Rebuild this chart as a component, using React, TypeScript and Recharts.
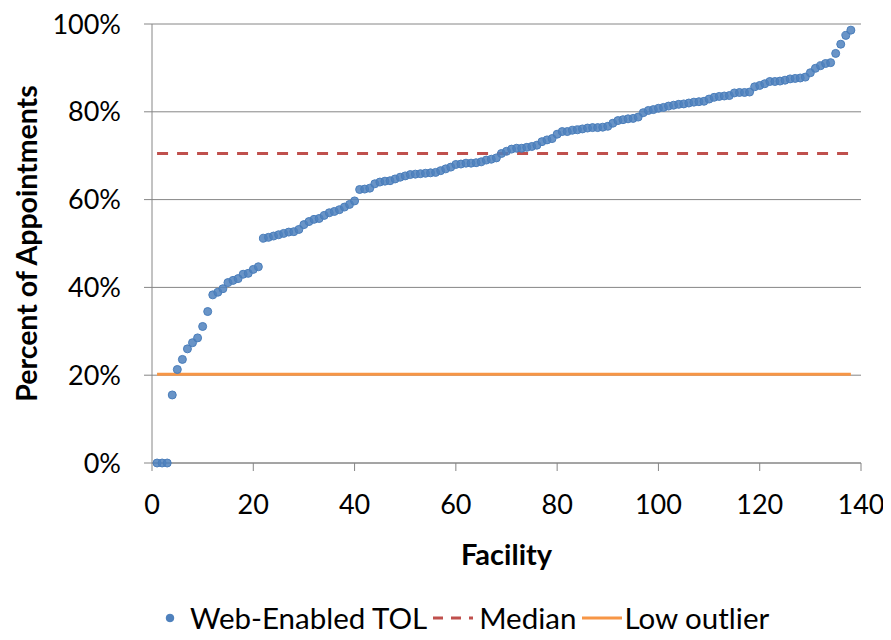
import { ComposedChart, Scatter, Line, XAxis, YAxis, CartesianGrid } from "recharts";

// Share of appointments booked through web-enabled TOL, one value per facility, sorted ascending (%)
const webEnabledTol = [
  0, 0, 0, 15.5, 21.3, 23.6, 26.0, 27.4, 28.5, 31.1,
  34.5, 38.3, 38.9, 39.7, 41.1, 41.6, 42.0, 43.0, 43.2, 44.1,
  44.7, 51.2, 51.4, 51.7, 52.0, 52.3, 52.6, 52.7, 53.2, 54.3,
  55.0, 55.5, 55.7, 56.4, 57.0, 57.3, 57.7, 58.3, 58.9, 59.7,
  62.3, 62.4, 62.6, 63.6, 64.0, 64.2, 64.3, 64.7, 65.1, 65.4,
  65.7, 65.8, 65.9, 66.0, 66.1, 66.2, 66.6, 67.0, 67.4, 68.0,
  68.1, 68.3, 68.3, 68.4, 68.6, 69.0, 69.2, 69.5, 70.5, 71.0,
  71.5, 71.7, 71.7, 71.9, 72.1, 72.4, 73.2, 73.6, 73.9, 74.9,
  75.5, 75.5, 75.8, 75.9, 76.1, 76.3, 76.4, 76.4, 76.5, 76.7,
  77.4, 78.0, 78.2, 78.4, 78.5, 78.8, 79.8, 80.3, 80.5, 80.8,
  81.0, 81.3, 81.5, 81.7, 81.8, 82.0, 82.2, 82.3, 82.4, 82.9,
  83.3, 83.5, 83.6, 83.7, 84.3, 84.4, 84.4, 84.5, 85.7, 86.0,
  86.4, 86.9, 86.9, 87.0, 87.2, 87.5, 87.6, 87.7, 87.9, 88.9,
  89.9, 90.5, 91.0, 91.2, 93.3, 95.4, 97.4, 98.6,
];
const MEDIAN = 70.5;
const LOW_OUTLIER = 20.2;

const xTicks = [0, 20, 40, 60, 80, 100, 120, 140];
const yTicks = [0, 20, 40, 60, 80, 100];

const points = webEnabledTol.map((y, i) => ({ x: i + 1, y }));
const lastFacility = webEnabledTol.length;
const medianLine = [
  { x: 1, y: MEDIAN },
  { x: lastFacility, y: MEDIAN },
];
const lowOutlierLine = [
  { x: 1, y: LOW_OUTLIER },
  { x: lastFacility, y: LOW_OUTLIER },
];

const FONT = "Lato, Carlito, Calibri, sans-serif";
const BLUE = "#4F81BD";
const RED = "#C0504D";
const ORANGE = "#F79646";
const GRID = "#868686";

const tickStyle = { fontSize: 27, fill: "#000", fontFamily: FONT };

// vertical axis title, centred on the plot height
function YTitle({ viewBox }: any) {
  const cx = viewBox.x + 14;
  const cy = viewBox.y + viewBox.height / 2;
  return (
    <text
      x={cx}
      y={cy}
      transform={`rotate(-90 ${cx} ${cy})`}
      textAnchor="middle"
      dominantBaseline="central"
      fontSize={28.5}
      fontWeight={700}
      fontFamily={FONT}
      fill="#000"
    >
      Percent of Appointments
    </text>
  );
}

function LegendBar() {
  const text = { fontSize: 29.5, color: "#000", fontFamily: FONT, lineHeight: "36px" };
  return (
    <div
      style={{
        position: "absolute",
        left: 154,
        top: 592,
        display: "flex",
        alignItems: "center",
        whiteSpace: "nowrap",
      }}
    >
      <svg width={16} height={16} style={{ marginRight: 12 }}>
        <circle cx={8} cy={8} r={3.8} fill={BLUE} stroke="#4A7EBB" />
      </svg>
      <span style={text}>Web-Enabled TOL</span>
      <svg width={44} height={10} style={{ margin: "0 4px" }}>
        <line x1={2} y1={5} x2={42} y2={5} stroke={RED} strokeWidth={3} strokeDasharray="10 8" />
      </svg>
      <span style={text}>Median</span>
      <svg width={40} height={10} style={{ margin: "0 2px 0 6px" }}>
        <line x1={0} y1={5} x2={40} y2={5} stroke={ORANGE} strokeWidth={3} />
      </svg>
      <span style={text}>Low outlier</span>
    </div>
  );
}

export default function App() {
  return (
    <div style={{ position: "relative", width: 875, height: 624, background: "#fff" }}>
      <ComposedChart
        width={875}
        height={624}
        margin={{ top: 16, right: 22, bottom: 68, left: 4 }}
      >
        <CartesianGrid vertical={false} stroke={GRID} strokeWidth={1} />
        <XAxis
          type="number"
          dataKey="x"
          domain={[0, 140]}
          ticks={xTicks}
          interval={0}
          height={101}
          stroke={GRID}
          tickSize={8}
          tickMargin={24}
          tick={tickStyle}
          label={{
            value: "Facility",
            position: "insideBottom",
            offset: -1,
            style: { fontSize: 29, fontWeight: 700, fill: "#000", fontFamily: FONT },
          }}
        />
        <YAxis
          type="number"
          dataKey="y"
          domain={[0, 100]}
          ticks={yTicks}
          interval={0}
          width={140}
          stroke={GRID}
          tickSize={8}
          tickMargin={23}
          tick={tickStyle}
          tickFormatter={(v: number) => `${v}%`}
          label={YTitle}
        />
        <Line
          data={lowOutlierLine}
          dataKey="y"
          stroke={ORANGE}
          strokeWidth={3}
          dot={false}
          activeDot={false}
          isAnimationActive={false}
        />
        <Line
          data={medianLine}
          dataKey="y"
          stroke={RED}
          strokeWidth={3}
          strokeDasharray="11 9"
          dot={false}
          activeDot={false}
          isAnimationActive={false}
        />
        <Scatter
          data={points}
          fill={BLUE}
          shape={(p: any) => (
            <circle cx={p.cx} cy={p.cy} r={4} fill={BLUE} fillOpacity={0.85} stroke="#4A7EBB" strokeWidth={1} />
          )}
          isAnimationActive={false}
        />
      </ComposedChart>
      <LegendBar />
    </div>
  );
}
